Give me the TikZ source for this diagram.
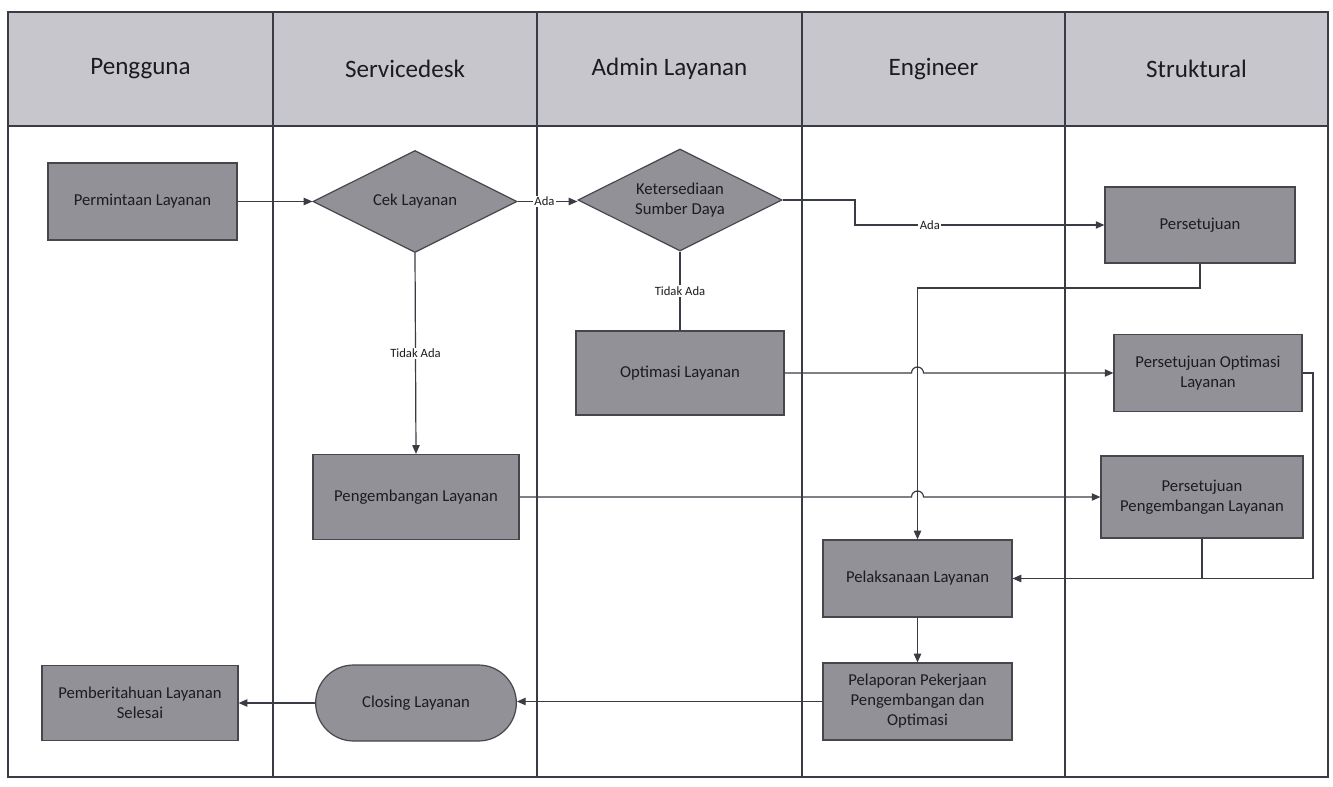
\documentclass[tikz,border=0pt]{standalone}
\usepackage{fontspec}
\setmainfont{Carlito}
\usetikzlibrary{arrows.meta,shapes.geometric,shapes.misc,calc}

\definecolor{hdrgray}{RGB}{198,198,204}
\definecolor{boxgray}{RGB}{146,145,152}
\definecolor{edgegray}{RGB}{70,70,76}
\definecolor{linegray}{RGB}{58,60,68}
\definecolor{txt}{RGB}{28,28,32}

\tikzset{
  lane/.style={draw=linegray, line width=1.2pt},
  boxtext/.style={align=center, text=txt, font=\fontsize{12.5}{15}\selectfont},
  proc/.style={rectangle, draw=edgegray, fill=boxgray, line width=0.9pt,
    inner sep=2pt, boxtext},
  decision/.style={diamond, aspect=2, draw=edgegray, fill=boxgray, line width=0.9pt,
    inner sep=0pt, boxtext},
  terminal/.style={rounded rectangle, draw=edgegray, fill=boxgray, line width=0.9pt,
    inner sep=2pt, boxtext},
  flow/.style={draw=linegray, line width=0.9pt},
  arr/.style={flow, -{Triangle[length=6.5pt,width=5.5pt]}},
  lbl/.style={fill=white, inner sep=1pt, text=txt, font=\fontsize{9.5}{11}\selectfont},
  lanehead/.style={text=txt, font=\fontsize{18.8}{22}\selectfont}
}

\begin{document}
\begin{tikzpicture}[x=0.75pt, y=-0.75pt]
\useasboundingbox[fill=white] (0,0) rectangle (1333,787);

% swimlane frame and header band
\fill[hdrgray] (8,12) rectangle (1328,126);
\draw[lane] (8,12) rectangle (1328,777);
\draw[lane] (8,126) -- (1328,126);
\foreach \x in {273,537,802,1065} \draw[lane] (\x,12) -- (\x,777);

\node[lanehead] (hPeng) at (140.5,69) {Pengguna};
\node[lanehead] (hServ) at (405,69) {Servicedesk};
\node[lanehead] (hAdm)  at (669.5,69) {Admin Layanan};
\node[lanehead] (hEng)  at (933.5,69) {Engineer};
\node[lanehead] (hStr)  at (1196.5,69) {Struktural};

% process steps
\node[proc, minimum width=141.75pt, minimum height=57.75pt] (minta) at (142.5,201.5) {Permintaan Layanan};
\node[decision, minimum width=153pt, minimum height=76.5pt] (cek) at (415,201.5) {Cek Layanan};
\node[decision, minimum width=153pt, minimum height=76.5pt] (sedia) at (680,200) {Ketersediaan\\Sumber Daya};
\node[proc, minimum width=142.5pt, minimum height=57pt] (setuju) at (1200,225) {Persetujuan};
\node[proc, minimum width=156pt, minimum height=63pt] (optim) at (680,373) {Optimasi Layanan};
\node[proc, minimum width=141pt, minimum height=57.75pt] (setopt) at (1208,373) {Persetujuan Optimasi\\Layanan};
\node[proc, minimum width=154.5pt, minimum height=63.75pt] (kembang) at (416,497) {Pengembangan Layanan};
\node[proc, minimum width=151.5pt, minimum height=61.5pt] (setkem) at (1202,497) {Persetujuan\\Pengembangan Layanan};
\node[proc, minimum width=141.75pt, minimum height=57.75pt] (laksana) at (917.5,578.5) {Pelaksanaan Layanan};
\node[proc, minimum width=141.75pt, minimum height=57.75pt] (lapor) at (917.5,701.5) {Pelaporan Pekerjaan\\Pengembangan dan\\Optimasi};
\node[terminal, minimum width=154.5pt, minimum height=57pt] (closing) at (416,703) {Closing Layanan};
\node[proc, minimum width=147pt, minimum height=56.25pt] (beritahu) at (140,703) {Pemberitahuan Layanan\\Selesai};

% junction points for the routed connectors
\coordinate (sBend) at (855,200);
\coordinate (pBend) at (1200,288);
\coordinate (oBend) at (1313,373);

% connectors
\draw[arr] (minta.east) -- (cek.west);
\draw[arr] (cek.east) -- node[lbl, pos=0.45] {Ada} (sedia.west |- cek.east);
\draw[arr] (sedia.east) -- (sBend) |- node[lbl, pos=0.65] {Ada} (setuju.west);
\draw[flow] (sedia.south) -- node[lbl, pos=0.5] {Tidak Ada} (optim.north);
\draw[arr] (cek.south) -- node[lbl, pos=0.5] {Tidak Ada} (kembang.north);
\draw[arr] (setuju.south) -- (pBend) -| (laksana.north);

% crossings hop over the vertical line into Pelaksanaan Layanan
\draw[arr] (optim.east) -- ($(optim.east -| laksana.north)+(-6,0)$)
  arc[start angle=180, end angle=360, radius=6] -- (setopt.west);
\draw[arr] (kembang.east) -- ($(kembang.east -| laksana.north)+(-6,0)$)
  arc[start angle=180, end angle=360, radius=6] -- (setkem.west);

\draw[flow] (setopt.east) -- (oBend) |- (laksana.east);
\draw[arr] (oBend |- laksana.east) -- (laksana.east);
\draw[flow] (setkem.south) -- (setkem.south |- laksana.east);
\draw[arr] (laksana.south) -- (lapor.north);
\draw[arr] (lapor.west) -- (closing.east |- lapor.west);
\draw[arr] (closing.west) -- (beritahu.east);
\end{tikzpicture}
\end{document}
